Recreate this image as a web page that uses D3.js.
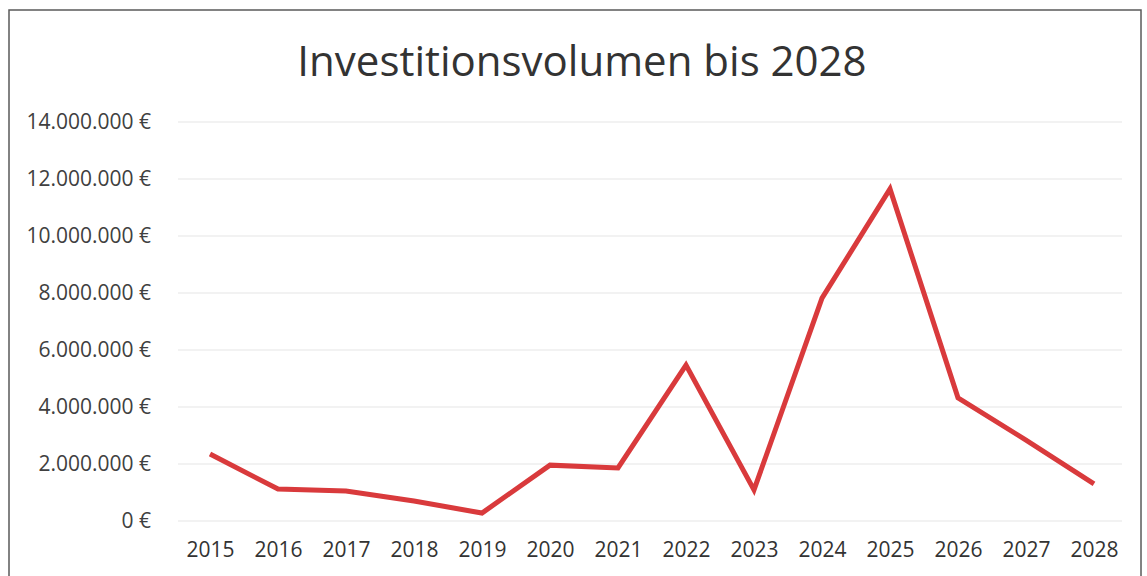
<!DOCTYPE html>
<html>
<head>
<meta charset="utf-8">
<script src="https://cdn.jsdelivr.net/npm/d3@7"></script>
<style>
  body { margin: 0; background: #fff; }
  svg { display: block; }
</style>
</head>
<body>
<div id="chart"></div>
<script>
// data
var years = ["2015", "2016", "2017", "2018", "2019", "2020", "2021",
             "2022", "2023", "2024", "2025", "2026", "2027", "2028"];
var volume = [2350000, 1120000, 1050000, 700000, 280000, 1960000, 1860000,
              5470000, 1090000, 7820000, 11650000, 4320000, 2840000, 1300000];
var yTicks = [0, 2000000, 4000000, 6000000, 8000000, 10000000, 12000000, 14000000];

var w = 1147, h = 576;
var font = "'Open Sans', sans-serif";
var svg = d3.select("#chart").append("svg")
    .attr("width", w).attr("height", h);

// scanned frame
svg.append("rect")
    .attr("x", 9).attr("y", 10)
    .attr("width", 1132).attr("height", 600)
    .attr("fill", "none").attr("stroke", "#5a5a5a").attr("stroke-width", 1.5);

// title
svg.append("text")
    .attr("x", 582).attr("y", 76)
    .attr("text-anchor", "middle")
    .style("font-family", font)
    .style("font-size", "42px")
    .style("fill", "#333")
    .text("Investitionsvolumen bis 2028");

var xscale = d3.scalePoint().domain(years).range([210, 1094]);
var yscale = d3.scaleLinear().domain([0, 14000000]).range([521, 122]);

var fmt = function(v) {
    return d3.format(",")(v).replace(/,/g, ".") + " €";
};

// horizontal grid
svg.append("g").selectAll("line").data(yTicks).enter().append("line")
    .attr("x1", 178).attr("x2", 1122)
    .attr("y1", function(d) { return yscale(d); })
    .attr("y2", function(d) { return yscale(d); })
    .attr("stroke", "#eeeeee").attr("stroke-width", 1.5);

// y axis labels
var yaxis = d3.axisLeft(yscale).tickValues(yTicks).tickFormat(fmt).tickSize(0).tickPadding(0);
var gy = svg.append("g").attr("transform", "translate(151,0)").call(yaxis);
gy.select(".domain").remove();
gy.selectAll("text")
    .style("font-family", font)
    .style("font-size", "21px")
    .style("fill", "#404040");

// x axis labels
var xaxis = d3.axisBottom(xscale).tickSize(0).tickPadding(0);
var gx = svg.append("g").attr("transform", "translate(0,542)").call(xaxis);
gx.select(".domain").remove();
gx.selectAll("text")
    .style("font-family", font)
    .style("font-size", "21px")
    .style("fill", "#333");

// the line
var line = d3.line()
    .x(function(d, i) { return xscale(years[i]); })
    .y(function(d) { return yscale(d); });
svg.append("path").datum(volume)
    .attr("d", line)
    .attr("fill", "none")
    .attr("stroke", "#d93a3c")
    .attr("stroke-width", 5)
    .attr("stroke-linejoin", "miter");
</script>
</body>
</html>
